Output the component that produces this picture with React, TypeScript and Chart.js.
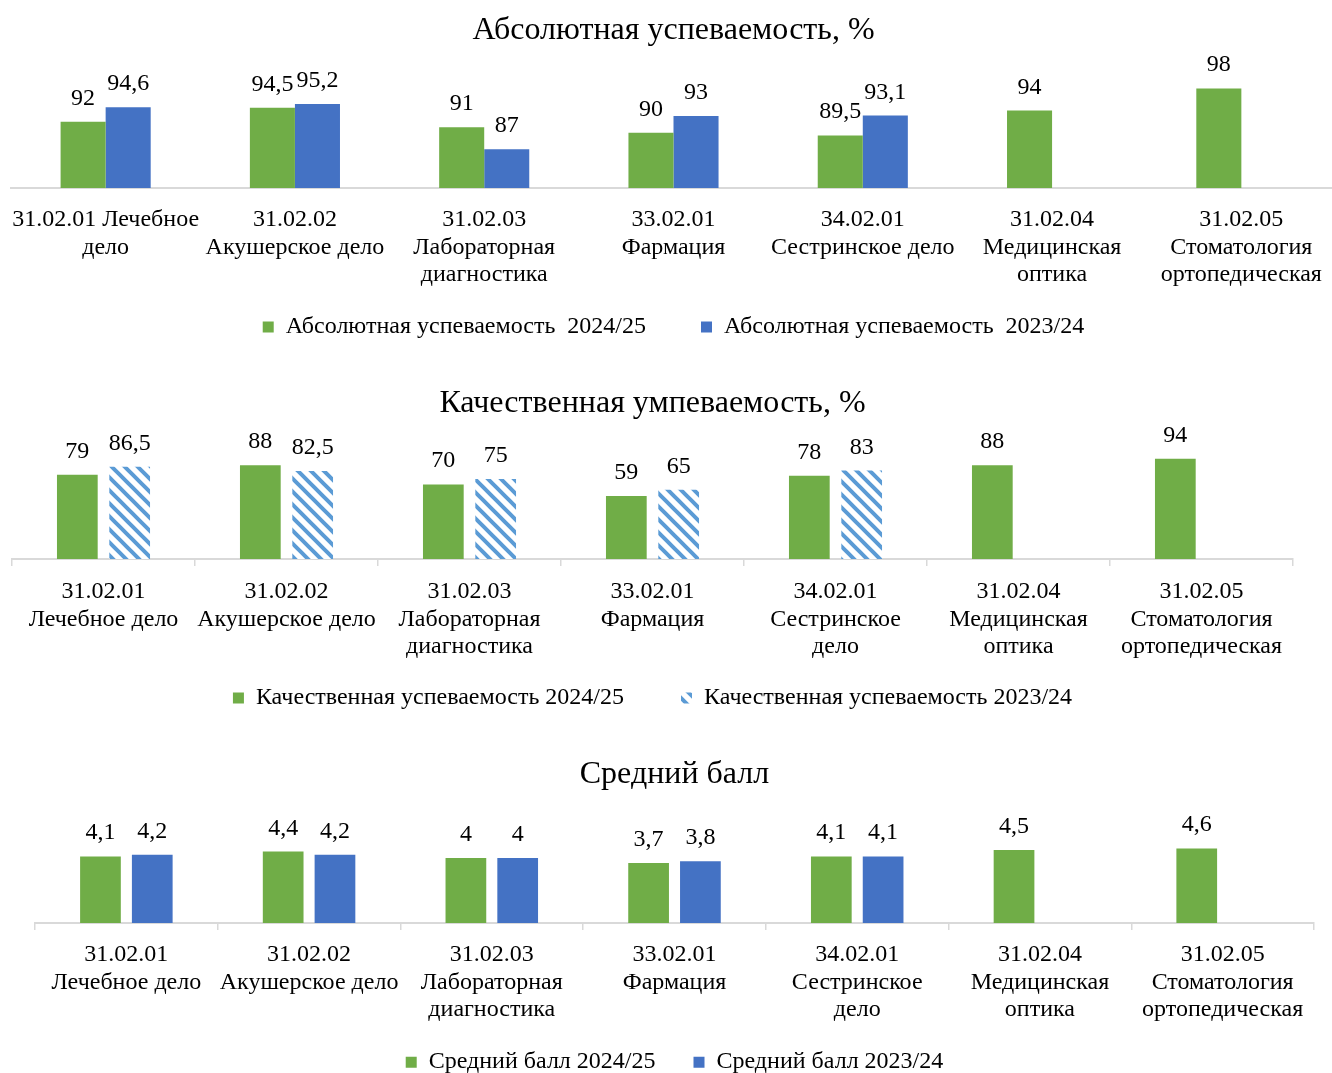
import React, { useEffect, useRef } from 'react';
import { Chart, registerables } from 'chart.js';

Chart.register(...registerables);

const FONT = '"Liberation Serif", "Times New Roman", Times, serif';
Chart.defaults.font.family = FONT;
Chart.defaults.color = '#000';

// ---------- data ----------
const categoriesAbs = [
  ['31.02.01 Лечебное', 'дело'],
  ['31.02.02', 'Акушерское дело'],
  ['31.02.03', 'Лабораторная', 'диагностика'],
  ['33.02.01', 'Фармация'],
  ['34.02.01', 'Сестринское дело'],
  ['31.02.04', 'Медицинская', 'оптика'],
  ['31.02.05', 'Стоматология', 'ортопедическая'],
];
const categoriesQual = [
  ['31.02.01', 'Лечебное дело'],
  ['31.02.02', 'Акушерское дело'],
  ['31.02.03', 'Лабораторная', 'диагностика'],
  ['33.02.01', 'Фармация'],
  ['34.02.01', 'Сестринское', 'дело'],
  ['31.02.04', 'Медицинская', 'оптика'],
  ['31.02.05', 'Стоматология', 'ортопедическая'],
];
const categoriesAvg = [
  ['31.02.01', 'Лечебное дело'],
  ['31.02.02', 'Акушерское дело'],
  ['31.02.03', 'Лабораторная', 'диагностика'],
  ['33.02.01', 'Фармация'],
  ['34.02.01', 'Сестринское', 'дело'],
  ['31.02.04', 'Медицинская', 'оптика'],
  ['31.02.05', 'Стоматология', 'ортопедическая'],
];

const absolute2425 = [92, 94.5, 91, 90, 89.5, 94, 98];
const absolute2324 = [94.6, 95.2, 87, 93, 93.1, null, null];
const quality2425 = [79, 88, 70, 59, 78, 88, 94];
const quality2324 = [86.5, 82.5, 75, 65, 83, null, null];
const average2425 = [4.1, 4.4, 4, 3.7, 4.1, 4.5, 4.6];
const average2324 = [4.2, 4.2, 4, 3.8, 4.1, null, null];

const titleAbs = 'Абсолютная успеваемость, %';
const titleQual = 'Качественная умпеваемость, %';
const titleAvg = 'Средний балл';

const legendAbs = ['Абсолютная успеваемость  2024/25', 'Абсолютная успеваемость  2023/24'];
const legendQual = ['Качественная успеваемость 2024/25', 'Качественная успеваемость 2023/24'];
const legendAvg = ['Средний балл 2024/25', 'Средний балл 2023/24'];

const GREEN = '#70AD47';
const BLUE = '#4472C4';
const HATCH = '#5B9BD5';
const AXIS = '#D9D9D9';

// ---------- helpers ----------
const valueLabels = {
  id: 'valueLabels',
  afterDatasetsDraw(chart: any) {
    const ctx = chart.ctx;
    ctx.save();
    ctx.font = `24px ${FONT}`;
    ctx.fillStyle = '#000';
    ctx.textAlign = 'center';
    ctx.textBaseline = 'alphabetic';
    chart.data.datasets.forEach((ds: any, i: number) => {
      const meta = chart.getDatasetMeta(i);
      meta.data.forEach((el: any, j: number) => {
        const v = ds.data[j];
        if (v === null || v === undefined) return;
        ctx.fillText(String(v).replace('.', ','), el.x, el.y - 17);
      });
    });
    ctx.restore();
  },
};

// let the category labels run below the (shortened) axis box without being clipped
const labelRoom = {
  id: 'labelRoom',
  afterLayout(chart: any) {
    const s = chart.scales.x;
    if (s) s.bottom = chart.height;
  },
};

function makeHatch(ctx: CanvasRenderingContext2D) {
  const p = 13;
  const tile = document.createElement('canvas');
  tile.width = p;
  tile.height = p;
  const t = tile.getContext('2d')!;
  t.fillStyle = '#ffffff';
  t.fillRect(0, 0, p, p);
  t.strokeStyle = HATCH;
  t.lineWidth = 4;
  t.beginPath();
  for (let k = -1; k <= 1; k++) {
    t.moveTo(k * p - 2, -2);
    t.lineTo(k * p + p + 2, p + 2);
  }
  t.stroke();
  return ctx.createPattern(tile, 'repeat') as any;
}

interface Cfg {
  labels: string[][];
  title: string;
  titlePad: { top: number; bottom: number };
  series: { label: string; data: (number | null)[]; color: any }[];
  catPct: number;
  barPct: number;
  yMin: number;
  yMax: number;
  padLeft: number;
  padRight: number;
  padBottom: number;
  ticks: boolean;
  tickPad: number;
  axisHeight: number;
  legendPad: number;
}

function buildConfig(c: Cfg): any {
  return {
    type: 'bar',
    data: {
      labels: c.labels,
      datasets: c.series.map((s) => ({
        label: s.label,
        data: s.data,
        backgroundColor: s.color,
        borderWidth: 0,
        categoryPercentage: c.catPct,
        barPercentage: c.barPct,
      })),
    },
    options: {
      responsive: false,
      animation: false,
      devicePixelRatio: 1,
      layout: { padding: { left: c.padLeft, right: c.padRight, top: 0, bottom: c.padBottom } },
      plugins: {
        title: {
          display: true,
          text: c.title,
          color: '#000',
          font: { family: FONT, size: 32, weight: 'normal', lineHeight: 1.2 },
          padding: c.titlePad,
        },
        legend: {
          position: 'bottom',
          labels: {
            color: '#000',
            font: { family: FONT, size: 24 },
            boxWidth: 11,
            boxHeight: 11,
            padding: c.legendPad,
          },
        },
        tooltip: { enabled: false },
      },
      scales: {
        x: {
          grid: c.ticks
            ? { display: true, drawOnChartArea: false, drawTicks: true, tickLength: 7, color: AXIS, lineWidth: 1.5 }
            : { display: false, drawTicks: false },
          border: { display: true, color: AXIS, width: 2 },
          ticks: {
            color: '#000',
            font: { family: FONT, size: 24, lineHeight: 1.15 },
            padding: c.tickPad,
            maxRotation: 0,
            minRotation: 0,
            autoSkip: false,
          },
          afterFit: (s: any) => {
            s.height = c.axisHeight;
            s.paddingLeft = 0;
            s.paddingRight = 0;
          },
        },
        y: { display: false, min: c.yMin, max: c.yMax },
      },
    },
    plugins: [valueLabels, labelRoom],
  };
}

function ChartBlock({ top, width = 1332, height, make }: { top: number; width?: number; height: number; make: (ctx: CanvasRenderingContext2D) => any }) {
  const ref = useRef<HTMLCanvasElement>(null);
  useEffect(() => {
    const canvas = ref.current!;
    const chart = new Chart(canvas, make(canvas.getContext('2d')!));
    return () => chart.destroy();
  }, []);
  return (
    <canvas
      ref={ref}
      width={width}
      height={height}
      style={{ position: 'absolute', left: 0, top, width, height }}
    />
  );
}

export default function App() {
  return (
    <div
      style={{
        position: 'fixed',
        left: 0,
        top: 0,
        width: 1332,
        height: 1073,
        overflow: 'hidden',
        background: '#ffffff',
      }}
    >
      <ChartBlock
        top={0}
        width={1336}
        height={355}
        make={() =>
          buildConfig({
            labels: categoriesAbs,
            title: titleAbs,
            titlePad: { top: 11, bottom: 28 },
            series: [
              { label: legendAbs[0], data: absolute2425, color: GREEN },
              { label: legendAbs[1], data: absolute2324, color: BLUE },
            ],
            catPct: 0.476,
            barPct: 1,
            yMin: 80,
            yMax: 100,
            padLeft: 11,
            padRight: 0,
            padBottom: 6,
            ticks: false,
            tickPad: 18,
            axisHeight: 72,
            legendPad: 55,
          })
        }
      />
      <ChartBlock
        top={355}
        height={370}
        make={(ctx) =>
          buildConfig({
            labels: categoriesQual,
            title: titleQual,
            titlePad: { top: 29, bottom: 30 },
            series: [
              { label: legendQual[0], data: quality2425, color: GREEN },
              { label: legendQual[1], data: quality2324, color: makeHatch(ctx) },
            ],
            catPct: 0.572,
            barPct: 0.778,
            yMin: 0,
            yMax: 100,
            padLeft: 12,
            padRight: 39,
            padBottom: 5,
            ticks: true,
            tickPad: 12,
            axisHeight: 70,
            legendPad: 57,
          })
        }
      />
      <ChartBlock
        top={725}
        height={360}
        make={() =>
          buildConfig({
            labels: categoriesAvg,
            title: titleAvg,
            titlePad: { top: 30, bottom: 48.5 },
            series: [
              { label: legendAvg[0], data: average2425, color: GREEN },
              { label: legendAvg[1], data: average2324, color: BLUE },
            ],
            catPct: 0.567,
            barPct: 0.786,
            yMin: 0,
            yMax: 5,
            padLeft: 35,
            padRight: 18,
            padBottom: 0.8,
            ticks: true,
            tickPad: 11,
            axisHeight: 89.3,
            legendPad: 38,
          })
        }
      />
    </div>
  );
}
